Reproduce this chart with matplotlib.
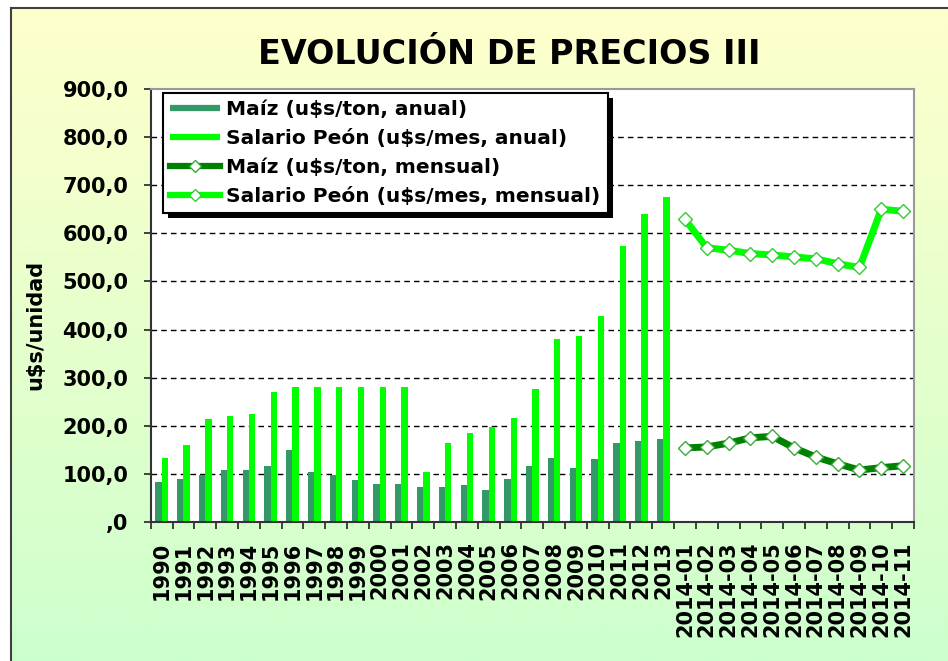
import matplotlib
matplotlib.use("Agg")
import matplotlib.pyplot as plt
import numpy as np
from matplotlib.lines import Line2D
from matplotlib.patches import Rectangle
from matplotlib.ticker import FixedLocator, FuncFormatter

# Annual series (1990-2013)
years = ["1990", "1991", "1992", "1993", "1994", "1995", "1996", "1997",
         "1998", "1999", "2000", "2001", "2002", "2003", "2004", "2005",
         "2006", "2007", "2008", "2009", "2010", "2011", "2012", "2013"]
maiz_anual = [83, 90, 97, 109, 109, 116, 150, 104, 97, 87, 80, 80,
              73, 73, 77, 66, 90, 116, 133, 112, 130, 164, 168, 172]
salario_anual = [133, 161, 214, 221, 225, 270, 281, 281, 281, 281, 281, 281,
                 104, 164, 186, 197, 217, 277, 380, 386, 429, 573, 640, 675]

# Monthly series (2014)
meses = ["2014-01", "2014-02", "2014-03", "2014-04", "2014-05", "2014-06",
         "2014-07", "2014-08", "2014-09", "2014-10", "2014-11"]
maiz_mensual = [154, 156, 164, 175, 178, 154, 135, 121, 108, 113, 117]
salario_mensual = [629, 570, 565, 558, 555, 551, 547, 537, 529, 650, 646]

labels = ["Maíz (u$s/ton, anual)", "Salario Peón (u$s/mes, anual)",
          "Maíz (u$s/ton, mensual)", "Salario Peón (u$s/mes, mensual)"]

C_MAIZ = "#339966"
C_SAL = "#00FF00"
C_MAIZ_M = "#008000"

W, H = 948, 661
fig = plt.figure(figsize=(W / 100, H / 100), dpi=100, facecolor="white")

# chart area background: yellow -> green gradient
bg = fig.add_axes([11 / W, 0, 1 - 11 / W, 1 - 8 / H], zorder=-5)
grad = np.linspace(0, 1, 256)[:, None]
top = np.array([255, 255, 204]) / 255
bot = np.array([204, 255, 204]) / 255
img = top[None, None, :] * (1 - grad[:, :, None]) + bot[None, None, :] * grad[:, :, None]
bg.imshow(img, aspect="auto", extent=(0, 1, 0, 1))
bg.set_axis_off()
fig.add_artist(Line2D([11 / W, 1], [1 - 8 / H, 1 - 8 / H], color="#404040", lw=1.5))
fig.add_artist(Line2D([11 / W, 11 / W], [0, 1 - 8 / H], color="#404040", lw=1.5))

ax = fig.add_axes([150.7 / W, 1 - 522 / H, (914 - 150.7) / W, (522 - 89) / H])
ax.set_facecolor("white")

n_years = len(years)
x_years = np.arange(n_years)
x_meses = np.arange(n_years, n_years + len(meses))

ax.bar(x_years - 0.145, maiz_anual, 0.29, color=C_MAIZ, zorder=2)
ax.bar(x_years + 0.145, salario_anual, 0.29, color=C_SAL, zorder=2)
ax.plot(x_meses, maiz_mensual, color=C_MAIZ_M, lw=5, marker="D", ms=7,
        mfc="white", mec="#3aaa3a", mew=1, zorder=3)
ax.plot(x_meses, salario_mensual, color=C_SAL, lw=5, marker="D", ms=7,
        mfc="white", mec="#33cc33", mew=1, zorder=3)

ax.set_xlim(-0.5, n_years + len(meses) - 0.5)
ax.set_ylim(0, 900)

# y axis
ax.set_yticks(np.arange(0, 901, 100))
ax.yaxis.set_major_formatter(FuncFormatter(
    lambda v, p: ",0" if v == 0 else f"{v:.1f}".replace(".", ",")))
ax.grid(axis="y", color="black", lw=1, ls=(0, (4, 3)), zorder=1)
gls = ax.get_ygridlines()
gls[0].set_visible(False)
gls[-1].set_visible(False)
ax.tick_params(axis="y", direction="out", length=5, width=1.2, pad=11,
               labelsize=15, colors="#222222", labelcolor="black")

# x axis: labels at centres, tick marks between categories
cats = years + meses
ax.set_xticks(np.arange(len(cats)))
ax.set_xticklabels(cats, rotation=90)
ax.xaxis.set_minor_locator(FixedLocator(np.arange(len(cats) + 1) - 0.5))
ax.tick_params(axis="x", which="major", length=0, pad=14, labelsize=15)
ax.tick_params(axis="x", which="minor", direction="out", length=5, width=1.2,
               colors="#222222")
for lab in ax.get_xticklabels() + ax.get_yticklabels():
    lab.set_fontweight("bold")

for s in ("left", "bottom"):
    ax.spines[s].set_color("#333333")
    ax.spines[s].set_linewidth(1.5)
for s in ("top", "right"):
    ax.spines[s].set_color("#999999")
    ax.spines[s].set_linewidth(1.5)

fig.text(509 / W, 1 - 54 / H, "EVOLUCIÓN DE PRECIOS III", ha="center",
         va="center", fontsize=24, fontweight="bold")
fig.text(35 / W, 1 - 325 / H, "u$s/unidad", rotation=90, ha="center",
         va="center", fontsize=15, fontweight="bold")

# legend
handles = [
    Line2D([], [], color=C_MAIZ, lw=4.5, solid_capstyle="butt"),
    Line2D([], [], color=C_SAL, lw=4.5, solid_capstyle="butt"),
    Line2D([], [], color=C_MAIZ_M, lw=4.5, marker="D", ms=6, mfc="white",
           mec="#3aaa3a", mew=1),
    Line2D([], [], color=C_SAL, lw=4.5, marker="D", ms=6, mfc="white",
           mec="#33cc33", mew=1),
]
leg = fig.legend(handles, labels, loc="upper left",
                 bbox_to_anchor=(163 / W, 1 - 93 / H), borderaxespad=0,
                 frameon=True, fancybox=False, edgecolor="black", framealpha=1,
                 prop={"weight": "bold", "size": 14.5}, handlelength=2.5,
                 handletextpad=0.3, labelspacing=0.5, borderpad=0.35,
                 numpoints=1)
leg.get_frame().set_linewidth(1.5)
leg.set_zorder(5)

fig.canvas.draw()
bb = leg.get_window_extent()
shadow = Rectangle((bb.x0 + 5, bb.y0 - 5), bb.width, bb.height,
                   transform=None, facecolor="black", edgecolor="none",
                   zorder=4.9)
fig.add_artist(shadow)

fig.savefig("out.png", dpi=100)
